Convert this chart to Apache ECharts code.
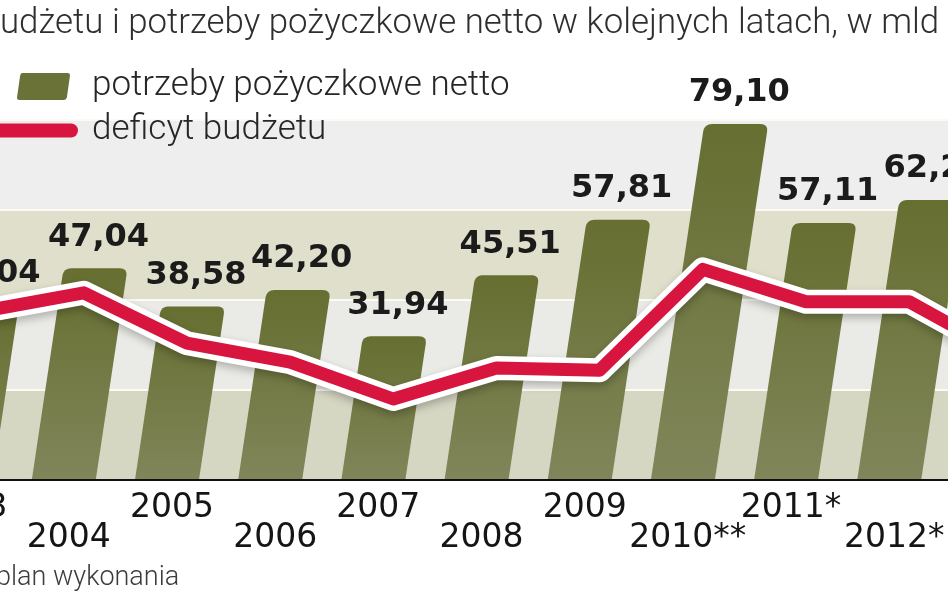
<!DOCTYPE html>
<html><head><meta charset="utf-8">
<script src="https://cdn.jsdelivr.net/npm/echarts@6/dist/echarts.min.js"></script>
<style>html,body{margin:0;padding:0;background:#fff;overflow:hidden;}#c{width:948px;height:593px;}</style>
</head><body><div id="c"></div>
<script>
// ---- data ----
const years = ['2003', '2004', '2005', '2006', '2007', '2008', '2009', '2010**', '2011*', '2012*', '2013*'];
const borrowingNeeds = [39.04, 47.04, 38.58, 42.20, 31.94, 45.51, 57.81, 79.10, 57.11, 62.20, null];
const budgetDeficit = [37.4, 41.6, 30.4, 26.2, 18.0, 24.9, 24.4, 46.8, 39.6, 39.6, 27.0];
const yTicks = [0, 20, 40, 60, 80];
const seriesNames = ['potrzeby pożyczkowe netto', 'deficyt budżetu'];
const titleText = 'udżetu i potrzeby pożyczkowe netto w kolejnych latach, w mld';
const footnoteText = 'plan wykonania';

// ---- style constants ----
const SKEW = 0.15;   // horizontal lean of bars per pixel of height
const SHIFT = 20;    // bar bottom offset to the left of category centre
const BAR_FRAC = 0.62;
const RADIUS = 8;

function fmt(v) { return v.toFixed(2).replace('.', ','); }

function roundedBar(xbL, xbR, xtL, xtR, yb, yt, r) {
  const pts = [[xbL, yb], [xbR, yb]];
  function corner(cx, cy, ax, ay, bx, by) {
    for (let k = 0; k <= 8; k++) {
      const t = k / 8, u = 1 - t;
      pts.push([u * u * ax + 2 * u * t * cx + t * t * bx, u * u * ay + 2 * u * t * cy + t * t * by]);
    }
  }
  let dx = xbR - xtR, dy = yb - yt, len = Math.hypot(dx, dy);
  corner(xtR, yt, xtR + r * dx / len, yt + r * dy / len, xtR - r, yt);
  dx = xbL - xtL; dy = yb - yt; len = Math.hypot(dx, dy);
  corner(xtL, yt, xtL + r, yt, xtL + r * dx / len, yt + r * dy / len);
  return pts;
}

const barData = borrowingNeeds.map((v, i) => [i, v]);

const chart = echarts.init(document.getElementById('c'), null, { renderer: 'canvas' });

const option = {
  backgroundColor: '#ffffff',
  animation: false,
  title: {
    text: titleText, left: 0, top: 7, padding: 0,
    textStyle: { fontFamily: 'Roboto', fontSize: 34.8, fontWeight: 300, color: '#2e2e2e' }
  },
  legend: [
    {
      data: [{ name: seriesNames[0], icon: 'path://M6,0H51Q54,0 53.5,3L50.5,24Q50,27 47,27H3Q0,27 0.5,24L3.5,3Q4,0 6,0Z', itemStyle: { color: '#6b7237' } }],
      left: 17, top: 69, padding: 0, itemWidth: 53, itemHeight: 27, selectedMode: false,
      textStyle: { fontFamily: 'Roboto', fontSize: 35, fontWeight: 300, color: '#262626', padding: [0, 0, 0, 17] }
    },
    {
      data: [{ name: seriesNames[1], icon: 'path://M7,0H81A7,7 0 0 1 81,14H7A7,7 0 0 1 7,0Z', itemStyle: { color: '#d7153f' } }],
      left: -10, top: 113, padding: 0, itemWidth: 88, itemHeight: 15, selectedMode: false,
      textStyle: { fontFamily: 'Roboto', fontSize: 35, fontWeight: 300, color: '#262626', padding: [6, 0, 0, 9] }
    }
  ],
  grid: { left: -71, right: -116, top: 120, bottom: 113, containLabel: false, outerBoundsMode: 'none' },
  xAxis: {
    type: 'category', data: years, boundaryGap: true,
    axisTick: { show: false },
    axisLine: { show: true, lineStyle: { color: '#111111', width: 2 } },
    axisLabel: {
      interval: 0, margin: 12, hideOverlap: false,
      formatter: (v, i) => (i % 2 === 0 ? '{u|' + v + '}' : '{d|' + v + '}'),
      rich: {
        u: { fontFamily: 'DejaVu Sans', fontSize: 33, color: '#151515', padding: [0, 30, 0, 0] },
        d: { fontFamily: 'DejaVu Sans', fontSize: 33, color: '#151515', padding: [30, 30, 0, 0] }
      }
    },
    z: 10
  },
  yAxis: {
    type: 'value', min: yTicks[0], max: yTicks[yTicks.length - 1], interval: yTicks[1] - yTicks[0],
    axisLabel: { show: false }, axisLine: { show: false }, axisTick: { show: false },
    splitLine: { show: true, lineStyle: { color: '#fbfbf4', width: 2 } },
    splitArea: { show: true, areaStyle: { color: ['#d6d7c3', '#eaeae6', '#dfdfcb', '#eeeeee'] } }
  },
  series: [
    {
      name: seriesNames[0], type: 'custom', data: barData, encode: { x: 0, y: 1 }, z: 2,
      itemStyle: { color: '#6b7237' },
      renderItem: function (params, api) {
        const i = api.value(0), v = api.value(1);
        if (v == null || isNaN(v)) return null;
        const base = api.coord([i, 0]);
        const top = api.coord([i, v]);
        const bw = api.size([1, 0])[0] * BAR_FRAC;
        const h = base[1] - top[1];
        const xb = base[0] - SHIFT;
        const xt = xb + SKEW * h;
        const pts = roundedBar(xb - bw / 2, xb + bw / 2, xt - bw / 2, xt + bw / 2, base[1], top[1], RADIUS);
        return {
          type: 'group',
          children: [
            {
              type: 'polygon', shape: { points: pts },
              style: {
                fill: new echarts.graphic.LinearGradient(0, 0, 0, 1, [
                  { offset: 0, color: '#666e30' }, { offset: 1, color: '#80865a' }
                ])
              }
            },
            {
              type: 'text', x: xt + 3, y: top[1] - 15,
              style: {
                text: fmt(v), font: 'bold 32px "DejaVu Sans"', fill: '#1b1b1b',
                align: 'center', verticalAlign: 'bottom'
              }
            }
          ]
        };
      }
    },
    {
      name: 'outline', type: 'line', data: budgetDeficit, symbol: 'none', z: 4, silent: true,
      lineStyle: { color: '#ffffff', width: 24, join: 'round', cap: 'round',
        shadowColor: 'rgba(0,0,0,0.25)', shadowBlur: 8, shadowOffsetY: 4 }
    },
    {
      name: seriesNames[1], type: 'line', data: budgetDeficit, symbol: 'none', z: 5,
      itemStyle: { color: '#d7153f' },
      lineStyle: { color: '#d7153f', width: 13, join: 'round', cap: 'round' }
    }
  ],
  graphic: [
    {
      type: 'text', x: -4, y: 565, z: 20,
      style: { text: footnoteText, font: '300 27px Roboto', fill: '#3c3c3c', verticalAlign: 'top' }
    }
  ]
};
chart.setOption(option);
</script>
</body></html>
